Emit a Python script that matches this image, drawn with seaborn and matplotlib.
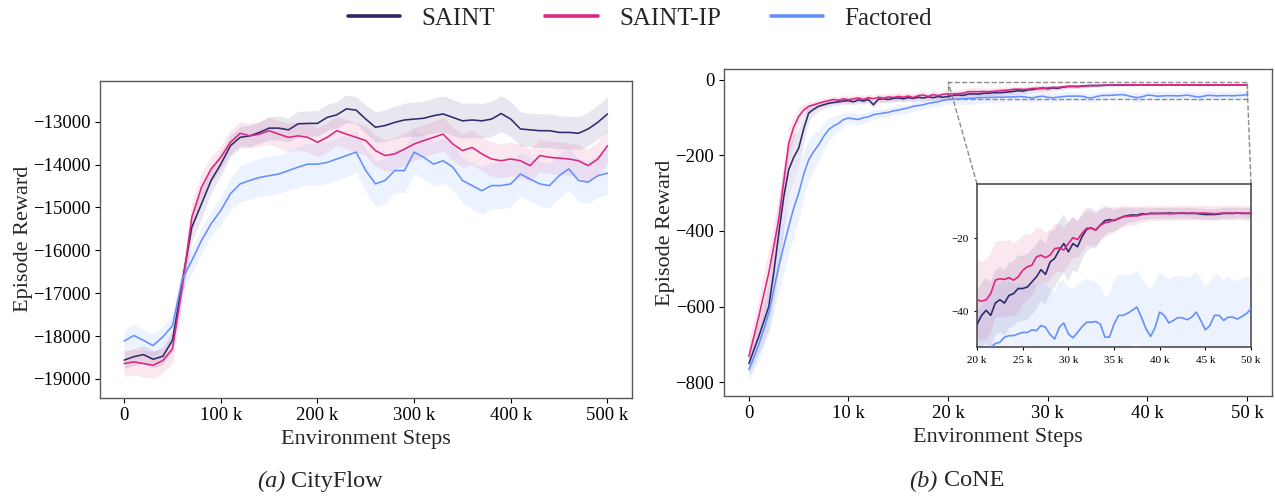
import numpy as np
import pandas as pd
import matplotlib
matplotlib.use("Agg")
import matplotlib.pyplot as plt
from matplotlib.lines import Line2D
from matplotlib.ticker import EngFormatter
from mpl_toolkits.axes_grid1.inset_locator import mark_inset
import seaborn as sns

# ---------------------------------------------------------------- data
methods = ["SAINT", "SAINT-IP", "Factored"]
colors = ["#2f2a6e", "#dc267f", "#648fff"]

# CityFlow: smoothed episode reward every 10k environment steps
city_steps = np.arange(0, 500001, 10000)
city_saint = [-18560, -18480, -18430, -18540, -18470, -18100, -16760, -15460, -14920, -14370,
              -13990, -13560, -13365, -13330, -13250, -13150, -13150, -13190, -13050, -13040,
              -13040, -12900, -12840, -12700, -12730, -12940, -13130, -13090, -13015, -12960,
              -12940, -12920, -12860, -12820, -12900, -12980, -12960, -12980, -12940, -12810,
              -12940, -13170, -13190, -13210, -13210, -13250, -13250, -13270, -13170, -13015,
              -12820]
city_saint_ip = [-18640, -18600, -18640, -18680, -18570, -18300, -16880, -15230, -14530, -14100,
                 -13830, -13480, -13270, -13330, -13290, -13210, -13290, -13365, -13330, -13365,
                 -13480, -13365, -13210, -13290, -13365, -13440, -13675, -13790, -13750, -13640,
                 -13520, -13440, -13365, -13290, -13520, -13675, -13600, -13750, -13870, -13910,
                 -13870, -13910, -14025, -13790, -13830, -13850, -13870, -13910, -14025, -13870,
                 -13560]
city_factored = [-18116, -17985, -18100, -18220, -18020, -17760, -16680, -16240, -15770, -15380,
                 -15070, -14680, -14450, -14370, -14300, -14260, -14220, -14140, -14060, -13990,
                 -13990, -13950, -13870, -13790, -13710, -14140, -14450, -14370, -14140, -14140,
                 -13710, -13830, -13990, -13910, -14060, -14370, -14490, -14610, -14490, -14490,
                 -14450, -14220, -14340, -14450, -14490, -14260, -14100, -14370, -14410, -14260,
                 -14200]
# half-width of the shaded spread around each mean
city_saint_sd = [200, 200, 210, 200, 200, 250, 300, 350, 330, 300,
                 280, 250, 250, 250, 250, 270, 280, 280, 290, 290,
                 300, 300, 310, 320, 320, 330, 350, 370, 380, 390,
                 400, 400, 410, 420, 420, 410, 400, 400, 410, 420,
                 410, 400, 390, 390, 390, 390, 380, 380, 390, 400,
                 400]
city_saint_ip_sd = [300, 300, 310, 310, 300, 320, 350, 350, 330, 300,
                    280, 280, 280, 280, 290, 310, 320, 330, 330, 340,
                    340, 340, 340, 340, 340, 350, 360, 370, 380, 380,
                    380, 380, 380, 390, 390, 390, 400, 400, 400, 400,
                    390, 390, 380, 380, 380, 380, 380, 380, 380, 390,
                    400]
city_factored_sd = [260, 250, 260, 250, 250, 270, 300, 300, 300, 300,
                    320, 380, 420, 440, 450, 450, 450, 460, 470, 480,
                    490, 490, 490, 490, 480, 500, 530, 530, 520, 510,
                    500, 510, 520, 520, 520, 530, 540, 550, 540, 540,
                    530, 520, 520, 520, 520, 510, 500, 500, 500, 500,
                    500]

# CoNE: smoothed episode reward every 500 environment steps
cone_steps = np.arange(0, 50001, 500)
cone_saint = [-751, -715, -679, -640, -600, -510, -407, -310, -238, -205,
              -181, -130, -88, -78, -70, -66, -62, -60, -58, -56,
              -55, -58, -53, -56, -52, -66, -51, -50, -52, -49,
              -48, -50, -47, -49, -46, -48, -45, -47, -44, -46,
              -43.7, -41.2, -39.8, -41.2, -37.8, -36.9, -37.8, -35.7, -35.2, -33.8,
              -33.8, -33.4, -32.0, -30.6, -28.6, -29.9, -26.5, -25.5, -23.2, -21.4,
              -23.7, -21.4, -22.3, -19.5, -17.5, -17.1, -17.7, -16.3, -15.1, -14.8,
              -15.1, -14.5, -14.0, -13.7, -13.5, -13.6, -13.2, -13.3, -13.1, -13.1,
              -13.1, -13.1, -13.0, -13.1, -13.1, -13.0, -13.1, -13.1, -13.1, -13.3,
              -13.4, -13.4, -13.4, -13.3, -13.1, -13.1, -13.1, -13.0, -13.1, -13.1,
              -13.1]
cone_saint_ip = [-732, -680, -626, -568, -511, -440, -370, -270, -168, -125,
                 -97, -80, -70, -66, -62, -58, -55, -52, -54, -50,
                 -53, -50, -48, -52, -47, -50, -46, -49, -45, -47,
                 -44, -46, -43, -47, -42, -40, -44, -39, -42, -38,
                 -36.9, -37.3, -36.9, -35.2, -31.5, -31.1, -31.3, -30.8, -31.5, -30.6,
                 -28.8, -27.8, -27.4, -25.1, -24.6, -25.3, -24.6, -22.8, -22.6, -23.2,
                 -21.4, -19.8, -20.3, -18.6, -17.2, -17.2, -17.7, -16.3, -15.7, -15.4,
                 -14.9, -14.6, -14.0, -13.9, -13.8, -13.8, -13.5, -13.3, -13.1, -13.2,
                 -13.1, -13.1, -13.2, -13.1, -13.0, -13.1, -13.1, -13.0, -13.1, -13.0,
                 -13.0, -13.1, -13.2, -13.1, -13.0, -13.0, -13.1, -13.0, -13.0, -13.1,
                 -13.0]
cone_factored = [-767, -735, -700, -660, -617, -555, -494, -440, -388, -340,
                 -300, -250, -212, -190, -172, -150, -132, -122, -115, -105,
                 -101, -103, -105, -100, -98, -92, -90, -88, -86, -82,
                 -80, -77, -74, -70, -68, -66, -62, -60, -58, -54,
                 -52, -51.5, -51, -50, -49.0, -48.6, -47.2, -46.8, -46.8, -46.3,
                 -45.9, -45.9, -45.2, -45.4, -44.0, -44.5, -46.5, -47.7, -44.5, -43.3,
                 -46.3, -47.4, -45.9, -44.3, -43.1, -43.1, -42.9, -43.6, -47.2, -47.2,
                 -43.6, -41.2, -41.2, -40.6, -39.8, -38.9, -41.7, -44.9, -47.0, -44.5,
                 -40.3, -41.2, -43.3, -42.6, -41.8, -41.9, -42.4, -41.7, -40.3, -42.6,
                 -45.2, -44.0, -41.2, -41.2, -42.6, -41.7, -41.7, -42.2, -41.5, -40.7,
                 -39.4]
cone_saint_sd = [35, 40, 45, 52, 60, 80, 90, 85, 70, 60,
                 50, 35, 22, 15, 12, 10, 9, 9, 9, 9,
                 9, 9, 9, 9, 9, 9, 9, 9, 9, 9,
                 9, 9, 9, 9, 9, 9, 9, 9, 9, 9,
                 9, 9, 9, 9, 9, 9, 9, 9, 9, 9,
                 9, 9, 9, 9, 8.5, 8.5, 8.5, 8, 8, 8,
                 8, 7.5, 7, 6.5, 6, 5.5, 5, 4.5, 4, 3.5,
                 3, 2.8, 2.5, 2.2, 2, 1.8, 1.7, 1.6, 1.5, 1.5,
                 1.5, 1.5, 1.5, 1.5, 1.5, 1.5, 1.5, 1.5, 1.5, 1.5,
                 1.5, 1.5, 1.5, 1.5, 1.5, 1.5, 1.5, 1.5, 1.5, 1.5,
                 1.5]
cone_saint_ip_sd = [40, 45, 50, 55, 60, 60, 55, 50, 40, 30,
                    22, 16, 12, 10, 10, 10, 10, 10, 10, 10,
                    10, 10, 10, 10, 10, 10, 10, 10, 10, 10,
                    10, 10, 10, 10, 10, 10, 10, 10, 10, 10,
                    11, 11, 11, 11, 10.5, 10.5, 10.5, 10.5, 10, 10,
                    9.5, 9, 8.5, 8, 7.5, 7, 7, 6.8, 6.5, 6.2,
                    6, 5.5, 5.2, 5, 4.8, 4.6, 4.5, 4.2, 4, 3.8,
                    3.5, 3.2, 3, 2.8, 2.6, 2.5, 2.3, 2.2, 2.1, 2,
                    2, 2, 2, 2, 2, 2, 2, 2, 2, 2,
                    2, 2, 2, 2, 2, 2, 2, 2, 2, 2,
                    2]
cone_factored_sd = [30, 35, 40, 48, 55, 62, 70, 72, 75, 72,
                    70, 62, 55, 48, 40, 35, 30, 26, 22, 19,
                    16, 15, 14, 14, 13, 13, 12, 12, 12, 12,
                    12, 12, 12, 12, 12, 12, 12, 12, 12, 12,
                    12, 13, 14, 15, 16, 16, 15, 15, 14, 14,
                    13.5, 13, 13, 12.5, 12, 12, 12.5, 13, 12.5, 12,
                    13, 13.5, 13, 12.5, 12, 11.5, 11, 10.5, 11, 12,
                    12, 11.5, 11, 10.5, 10, 10, 11, 12, 13, 13,
                    11, 11, 12, 12, 11.5, 11.5, 11.5, 11.5, 11, 11.5,
                    12, 12, 11.5, 11, 11, 11, 10.5, 10.5, 10.5, 10,
                    9]

city = {"SAINT": (city_saint, city_saint_sd),
        "SAINT-IP": (city_saint_ip, city_saint_ip_sd),
        "Factored": (city_factored, city_factored_sd)}
cone = {"SAINT": (cone_saint, cone_saint_sd),
        "SAINT-IP": (cone_saint_ip, cone_saint_ip_sd),
        "Factored": (cone_factored, cone_factored_sd)}

# ---------------------------------------------------------------- style
sns.set_theme(style="ticks")
plt.rcParams["font.family"] = ["Liberation Serif", "DejaVu Serif"]
plt.rcParams["axes.unicode_minus"] = True

fig = plt.figure(figsize=(12.75, 4.96), dpi=100)
ax_city = fig.add_axes([0.0784, 0.1982, 0.4170, 0.6391])
ax_cone = fig.add_axes([0.5678, 0.2022, 0.4298, 0.6581])
ax_zoom = fig.add_axes([0.7663, 0.2998, 0.2149, 0.3292])


def draw_runs(ax, steps, runs, lw):
    frames = []
    for name in methods:
        mean, _ = runs[name]
        frames.append(pd.DataFrame({"step": steps, "reward": mean, "method": name}))
    df = pd.concat(frames, ignore_index=True)
    for name, col in zip(methods, colors):
        mean, sd = runs[name]
        mean = np.asarray(mean, float)
        sd = np.asarray(sd, float)
        ax.fill_between(steps, mean - sd, mean + sd, color=col, alpha=0.11,
                        linewidth=0, zorder=1)
    sns.lineplot(data=df, x="step", y="reward", hue="method", hue_order=methods,
                 palette=colors, linewidth=lw, legend=False, ax=ax, zorder=3)


def style_axes(ax, labelsize, ticklen, spine_col, spine_lw):
    for sp in ax.spines.values():
        sp.set_visible(True)
        sp.set_color(spine_col)
        sp.set_linewidth(spine_lw)
    ax.tick_params(labelsize=labelsize, length=ticklen, width=0.8,
                   direction="out", colors="black")
    ax.xaxis.set_major_formatter(EngFormatter(sep=" "))


draw_runs(ax_city, city_steps, city, 1.15)
ax_city.set_xlim(-25000, 525000)
ax_city.set_ylim(-19436, -12044)
ax_city.set_xticks(np.arange(0, 500001, 100000))
ax_city.set_yticks(np.arange(-19000, -12999, 1000))
style_axes(ax_city, 13.5, 3.5, "0.35", 1.0)
ax_city.set_xlabel("Environment Steps", fontsize=16, labelpad=4)
ax_city.set_ylabel("Episode Reward", fontsize=16, labelpad=0)

draw_runs(ax_cone, cone_steps, cone, 1.15)
ax_cone.set_xlim(-2500, 52500)
ax_cone.set_ylim(-836, 28)
ax_cone.set_xticks(np.arange(0, 50001, 10000))
ax_cone.set_yticks(np.arange(-800, 1, 200))
style_axes(ax_cone, 13.5, 3.5, "0.35", 1.0)
ax_cone.set_xlabel("Environment Steps", fontsize=16, labelpad=4)
ax_cone.set_ylabel("Episode Reward", fontsize=16, labelpad=0.5)

draw_runs(ax_zoom, cone_steps, cone, 1.2)
ax_zoom.set_xlim(20000, 50000)
ax_zoom.set_ylim(-50, -5)
ax_zoom.set_xticks(np.arange(20000, 50001, 5000))
ax_zoom.set_yticks([-40, -20])
style_axes(ax_zoom, 8, 2.5, "0.25", 1.1)
ax_zoom.set_xlabel("")
ax_zoom.set_ylabel("")
mark_inset(ax_cone, ax_zoom, loc1=1, loc2=2, fc="none", ec="0.55",
           ls="--", lw=1.0)

handles = [Line2D([], [], color=c, lw=2.6) for c in colors]
fig.legend(handles, methods, loc="center", bbox_to_anchor=(0.502, 0.962),
           ncol=3, frameon=False, fontsize=18, handlelength=2.1,
           handletextpad=0.85, columnspacing=2.0)

cap_y = 15 / 496
fig.text(286 / 1275, cap_y, "(a)", ha="right", va="center", style="italic", fontsize=17.5)
fig.text(291 / 1275, cap_y, "CityFlow", ha="left", va="center", fontsize=17.5)
fig.text(938 / 1275, cap_y, "(b)", ha="right", va="center", style="italic", fontsize=17.5)
fig.text(944 / 1275, cap_y, "CoNE", ha="left", va="center", fontsize=17.5)

fig.savefig("out.png", dpi=100)
